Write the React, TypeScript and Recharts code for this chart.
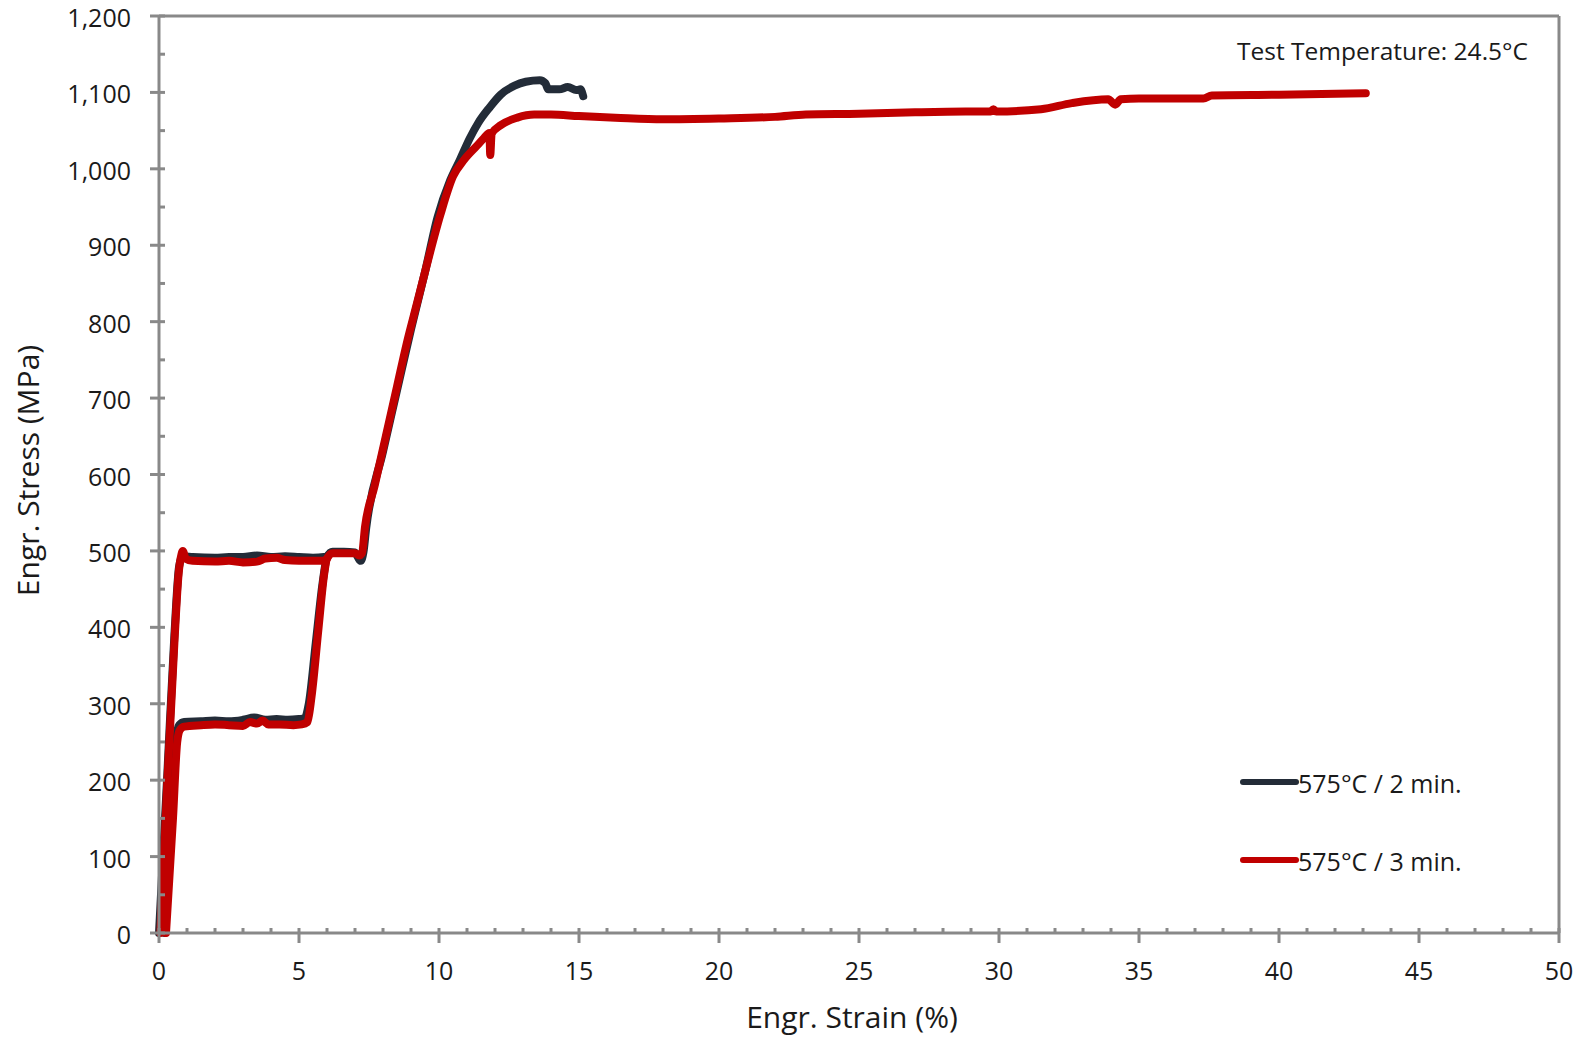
import React from 'react';
import { LineChart, Line, XAxis, YAxis, Legend, ReferenceLine } from 'recharts';

type Pt = { x: number; y: number };

// Tick positions (minor + major)
const xTicks = [
  0, 1, 2, 3, 4, 5, 6, 7, 8, 9, 10, 11, 12, 13, 14, 15, 16, 17, 18, 19, 20, 21, 22, 23, 24, 25,
  26, 27, 28, 29, 30, 31, 32, 33, 34, 35, 36, 37, 38, 39, 40, 41, 42, 43, 44, 45, 46, 47, 48, 49, 50,
];
const yTicks = [
  0, 50, 100, 150, 200, 250, 300, 350, 400, 450, 500, 550, 600, 650, 700, 750, 800, 850, 900, 950,
  1000, 1050, 1100, 1150, 1200,
];

const seriesNames = ['575°C / 2 min.', '575°C / 3 min.'];
const testTemperature = 'Test Temperature: 24.5°C';

// 575°C / 2 min. — loading path through the lower plateau and up to fracture
const black2min: Pt[] = [
  { x: 0.2, y: 0 }, { x: 0.45, y: 150 }, { x: 0.62, y: 255 }, { x: 0.72, y: 272 }, { x: 0.9, y: 276 },
  { x: 1.5, y: 277 }, { x: 2.0, y: 278 }, { x: 2.5, y: 277 }, { x: 3.0, y: 279 }, { x: 3.4, y: 282 },
  { x: 3.8, y: 279 }, { x: 4.2, y: 280 }, { x: 4.6, y: 279 }, { x: 5.0, y: 280 }, { x: 5.2, y: 281 },
  { x: 5.35, y: 300 }, { x: 5.6, y: 380 }, { x: 5.85, y: 460 }, { x: 6.0, y: 492 }, { x: 6.2, y: 499 },
  { x: 6.6, y: 499 }, { x: 7.0, y: 498 }, { x: 7.1, y: 492 }, { x: 7.2, y: 487 }, { x: 7.3, y: 498 },
  { x: 7.4, y: 530 }, { x: 8.0, y: 630 }, { x: 8.5, y: 710 }, { x: 9.0, y: 790 }, { x: 9.5, y: 865 },
  { x: 9.95, y: 937 }, { x: 10.4, y: 985 }, { x: 10.75, y: 1012 }, { x: 11.1, y: 1040 }, { x: 11.4, y: 1060 },
  { x: 11.8, y: 1080 }, { x: 12.2, y: 1097 }, { x: 12.7, y: 1109 }, { x: 13.1, y: 1114 }, { x: 13.6, y: 1116 },
  { x: 13.8, y: 1112 }, { x: 13.9, y: 1104 }, { x: 14.3, y: 1104 }, { x: 14.6, y: 1107 }, { x: 14.9, y: 1103 },
  { x: 15.05, y: 1104 }, { x: 15.15, y: 1095 },
];

// 575°C / 2 min. — upper plateau branch
const black2minUpper: Pt[] = [
  { x: 0.0, y: 0 }, { x: 0.3, y: 210 }, { x: 0.55, y: 390 }, { x: 0.72, y: 480 }, { x: 0.85, y: 493 },
  { x: 1.2, y: 492 }, { x: 2.0, y: 491 }, { x: 2.5, y: 492 }, { x: 3.0, y: 492 }, { x: 3.5, y: 494 },
  { x: 4.0, y: 492 }, { x: 4.5, y: 493 }, { x: 5.0, y: 492 }, { x: 5.5, y: 491 }, { x: 5.9, y: 492 },
  { x: 6.0, y: 493 },
];

// 575°C / 3 min. — loading path through the lower plateau and up to fracture
const red3min: Pt[] = [
  { x: 0.25, y: 0 }, { x: 0.5, y: 150 }, { x: 0.65, y: 250 }, { x: 0.75, y: 266 }, { x: 0.9, y: 270 },
  { x: 1.5, y: 272 }, { x: 2.0, y: 273 }, { x: 2.5, y: 272 }, { x: 3.0, y: 271 }, { x: 3.25, y: 276 },
  { x: 3.5, y: 274 }, { x: 3.7, y: 278 }, { x: 3.9, y: 273 }, { x: 4.3, y: 273 }, { x: 4.8, y: 272 },
  { x: 5.1, y: 273 }, { x: 5.3, y: 276 }, { x: 5.45, y: 310 }, { x: 5.7, y: 400 }, { x: 5.9, y: 470 },
  { x: 6.0, y: 490 }, { x: 6.2, y: 497 }, { x: 6.6, y: 497 }, { x: 7.0, y: 497 }, { x: 7.15, y: 494 },
  { x: 7.25, y: 497 }, { x: 7.36, y: 532 }, { x: 7.7, y: 585 }, { x: 8.1, y: 650 }, { x: 8.5, y: 715 },
  { x: 8.85, y: 772 }, { x: 9.2, y: 822 }, { x: 9.5, y: 865 }, { x: 10.05, y: 940 }, { x: 10.5, y: 990 },
  { x: 10.9, y: 1012 }, { x: 11.35, y: 1030 }, { x: 11.6, y: 1040 }, { x: 11.8, y: 1047 }, { x: 11.83, y: 1018 },
  { x: 11.88, y: 1046 }, { x: 12.2, y: 1057 }, { x: 12.8, y: 1067 }, { x: 13.4, y: 1071 }, { x: 14.0, y: 1071 },
  { x: 15.0, y: 1069 }, { x: 16.3, y: 1067 }, { x: 18.0, y: 1065 }, { x: 20.0, y: 1066 }, { x: 22.0, y: 1068 },
  { x: 23.1, y: 1071 }, { x: 25.0, y: 1072 }, { x: 27.0, y: 1074 }, { x: 28.8, y: 1075 }, { x: 29.7, y: 1075 },
  { x: 29.8, y: 1078 }, { x: 29.9, y: 1075 }, { x: 31.5, y: 1078 }, { x: 32.6, y: 1086 }, { x: 33.9, y: 1091 },
  { x: 34.15, y: 1084 }, { x: 34.35, y: 1091 }, { x: 35.0, y: 1092 }, { x: 37.3, y: 1092 }, { x: 37.6, y: 1096 },
  { x: 40.0, y: 1097 }, { x: 43.1, y: 1099 },
];

// 575°C / 3 min. — upper plateau branch
const red3minUpper: Pt[] = [
  { x: 0.05, y: 0 }, { x: 0.3, y: 200 }, { x: 0.55, y: 380 }, { x: 0.7, y: 470 }, { x: 0.8, y: 495 },
  { x: 0.85, y: 500 }, { x: 0.95, y: 490 }, { x: 1.2, y: 487 }, { x: 2.0, y: 486 }, { x: 2.5, y: 487 },
  { x: 3.0, y: 485 }, { x: 3.5, y: 486 }, { x: 3.8, y: 490 }, { x: 4.2, y: 491 }, { x: 4.5, y: 488 },
  { x: 5.0, y: 487 }, { x: 5.5, y: 487 }, { x: 5.9, y: 487 }, { x: 6.0, y: 490 },
];

const AXIS = '#898989';
const INK = '#1a1a1a';
const BLACK = '#232c38';
const RED = '#c00000';
const FONT = '"Open Sans", sans-serif';

function XTick(props: any) {
  const { x, y, payload } = props;
  const major = payload.value % 5 === 0;
  return (
    <g>
      <line x1={x} x2={x} y1={y - 5} y2={major ? y + 10 : y} stroke={AXIS} strokeWidth={3} />
      {major && (
        <text x={x} y={y + 47} textAnchor="middle" fontSize={25} fill={INK} fontFamily={FONT}>
          {payload.value}
        </text>
      )}
    </g>
  );
}

function YTick(props: any) {
  const { x, y, payload } = props;
  const major = payload.value % 100 === 0;
  return (
    <g>
      <line x1={major ? x - 9 : x} x2={x + 6} y1={y} y2={y} stroke={AXIS} strokeWidth={3} />
      {major && (
        <text x={x - 28} y={y + 11} textAnchor="end" fontSize={25} fill={INK} fontFamily={FONT}>
          {payload.value.toLocaleString('en-US')}
        </text>
      )}
    </g>
  );
}

function XTitle(props: any) {
  const { viewBox } = props;
  return (
    <text x={viewBox.x + viewBox.width / 2 - 7} y={1028} textAnchor="middle" fontSize={30} fill={INK} fontFamily={FONT}>
      Engr. Strain (%)
    </text>
  );
}

function YTitle(props: any) {
  const { viewBox } = props;
  const cy = viewBox.y + viewBox.height / 2 - 4;
  return (
    <text x={39} y={cy} transform={`rotate(-90 39 ${cy})`} textAnchor="middle" fontSize={30} fill={INK} fontFamily={FONT}>
      Engr. Stress (MPa)
    </text>
  );
}

function LegendBox(props: any) {
  const payload: any[] = props.payload || [];
  const items = seriesNames
    .map((n) => payload.find((p) => p.value === n))
    .filter(Boolean);
  return (
    <svg width={260} height={130}>
      {items.map((p: any, i: number) => (
        <g key={p.value}>
          <line x1={3} x2={56} y1={22 + i * 78} y2={22 + i * 78} stroke={p.color} strokeWidth={6} strokeLinecap="round" />
          <text x={58} y={33 + i * 78} fontSize={25} fill={INK} fontFamily={FONT}>
            {p.value}
          </text>
        </g>
      ))}
    </svg>
  );
}

export default function App() {
  const lineProps = {
    type: 'monotoneX' as const,
    dataKey: 'y',
    strokeWidth: 8,
    dot: false,
    activeDot: false,
    isAnimationActive: false,
    strokeLinejoin: 'round' as const,
    strokeLinecap: 'round' as const,
  };
  return (
    <div style={{ position: 'absolute', left: 0, top: 0, background: '#fff', fontFamily: FONT }}>
      <LineChart width={1581} height={1041} margin={{ top: 16, right: 22, left: 0, bottom: 0 }}>
        <XAxis
          type="number"
          dataKey="x"
          domain={[0, 50]}
          ticks={xTicks}
          interval={0}
          height={108}
          tickSize={0}
          tickMargin={0}
          tickLine={false}
          tick={<XTick />}
          axisLine={{ stroke: AXIS, strokeWidth: 3 }}
          label={<XTitle />}
        />
        <YAxis
          type="number"
          domain={[0, 1200]}
          ticks={yTicks}
          interval={0}
          width={159}
          tickSize={0}
          tickMargin={0}
          tickLine={false}
          tick={<YTick />}
          axisLine={{ stroke: AXIS, strokeWidth: 3 }}
          label={<YTitle />}
        />
        <ReferenceLine y={1200} stroke={AXIS} strokeWidth={3} />
        <ReferenceLine x={50} stroke={AXIS} strokeWidth={3} />
        <Line {...lineProps} data={black2min} name={seriesNames[0]} stroke={BLACK} />
        <Line {...lineProps} data={black2minUpper} name="2 min. branch" stroke={BLACK} legendType="none" />
        <Line {...lineProps} data={red3min} name={seriesNames[1]} stroke={RED} />
        <Line {...lineProps} data={red3minUpper} name="3 min. branch" stroke={RED} legendType="none" />
        <Legend
          layout="horizontal"
          verticalAlign="middle"
          align="center"
          content={<LegendBox />}
          wrapperStyle={{ left: 1240, top: 760, width: 260, height: 130 }}
        />
        <text x={1528} y={60} textAnchor="end" fontSize={24.5} fill={INK} fontFamily={FONT}>
          {testTemperature}
        </text>
      </LineChart>
    </div>
  );
}
